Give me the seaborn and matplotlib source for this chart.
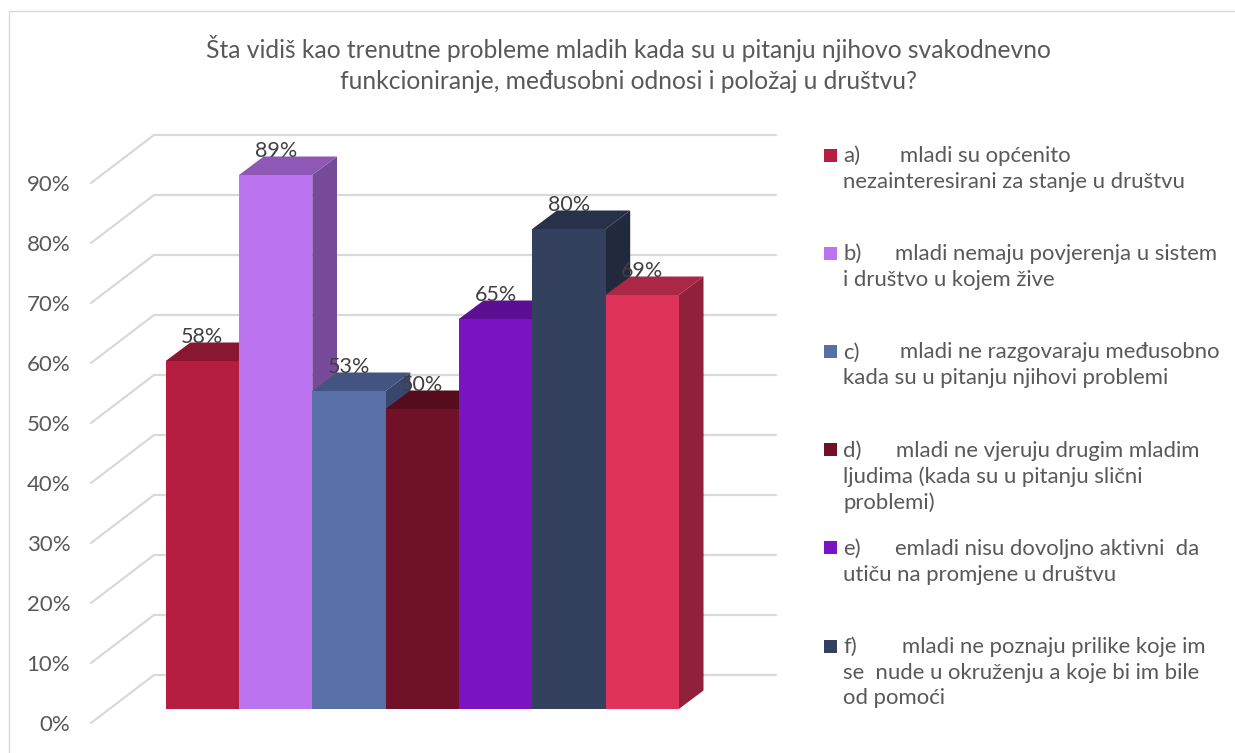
import numpy as np
import pandas as pd
import matplotlib
matplotlib.use('Agg')
import matplotlib.pyplot as plt
from matplotlib.colors import to_rgb
from matplotlib.patches import Polygon, Rectangle
import seaborn as sns

# podaci
kategorije = ['a', 'b', 'c', 'd', 'e', 'f', 'g']
vrijednosti = [58, 89, 53, 50, 65, 80, 69]
boje = ['#B51E40', '#BC73F0', '#596FA8', '#701128', '#7A14C2', '#33415F', '#E0335C']
podjele = [0, 10, 20, 30, 40, 50, 60, 70, 80, 90]
oznake_y = ['0%', '10%', '20%', '30%', '40%', '50%', '60%', '70%', '80%', '90%']

naslov = ('Šta vidiš kao trenutne probleme mladih kada su u pitanju njihovo svakodnevno\n'
          'funkcioniranje, međusobni odnosi i položaj u društvu?')

legenda_oznake = ['a)', 'b)', 'c)', 'd)', 'e)', 'f)']
legenda_prvi_red = ['mladi su općenito',
                    'mladi nemaju povjerenja u sistem',
                    'mladi ne razgovaraju međusobno',
                    'mladi ne vjeruju drugim mladim',
                    'emladi nisu dovoljno aktivni  da',
                    'mladi ne poznaju prilike koje im']
legenda_ostalo = ['nezainteresirani za stanje u društvu',
                  'i društvo u kojem žive',
                  'kada su u pitanju njihovi problemi',
                  'ljudima (kada su u pitanju slični\nproblemi)',
                  'utiču na promjene u društvu',
                  'se  nude u okruženju a koje bi im bile\nod pomoći']
legenda_x_teksta = [900, 895, 900, 896, 895, 902]

W, H = 1235, 753
FONT = 'Lato'
SIVA = '#595959'

sns.set_theme(style='white')
plt.rcParams['font.family'] = [FONT, 'DejaVu Sans']

fig = plt.figure(figsize=(W / 100, H / 100), dpi=100)
# osa pokriva podrucje od lijevog kraja dijagonala do desnog kraja mreze
ax = fig.add_axes([91 / W, 1 - 723 / H, (776 - 91) / W, (723 - 136) / H])

df = pd.DataFrame({'kategorija': kategorije, 'vrijednost': vrijednosti})
sns.barplot(data=df, x='kategorija', y='vrijednost', hue='kategorija',
            palette=boje, width=1, dodge=False, legend=False, saturation=1, ax=ax)

px_x = 73.3   # pikseli po kategoriji
px_y = 6.0    # pikseli po procentu
ax.set_xlim(-0.5 - (165.7 - 91) / px_x, -0.5 + (776 - 165.7) / px_x)
ax.set_ylim(-(723 - 709) / px_y, (709 - 136) / px_y)

dubina_x = 24.7 / px_x
dubina_y = 18.5 / px_y
zid_x = 63 / px_x
zid_y = 48 / px_y
front_y = -(723 - 709) / px_y
lijevo = ax.get_xlim()[0]
desno = ax.get_xlim()[1]

# mreza na zadnjem zidu i dijagonale
for p in podjele:
    ax.plot([lijevo, lijevo + zid_x, desno], [front_y + p, front_y + p + zid_y, front_y + p + zid_y],
            color='#D9D9D9', lw=1.6, zorder=1, solid_joinstyle='miter', clip_on=False)

# stranice i vrh stubova
bars = [b for c in ax.containers for b in c]
for i, (bar, boja) in enumerate(zip(bars, boje)):
    x0 = bar.get_x()
    x1 = x0 + bar.get_width()
    v = bar.get_height()
    rgb = np.array(to_rgb(boja))
    strana = Polygon([(x1, 0), (x1 + dubina_x, dubina_y), (x1 + dubina_x, v + dubina_y), (x1, v)],
                     closed=True, facecolor=rgb * 0.64, edgecolor='none', zorder=2 + i)
    vrh = Polygon([(x0, v), (x0 + dubina_x, v + dubina_y), (x1 + dubina_x, v + dubina_y), (x1, v)],
                  closed=True, facecolor=rgb * 0.76, edgecolor='none', zorder=2 + i + 0.1)
    ax.add_patch(strana)
    ax.add_patch(vrh)
    bar.set_zorder(2 + i + 0.2)
    bar.set_edgecolor('none')
    ax.text(x0 + bar.get_width() / 2, v + 4.0, f'{v:.0f}%', ha='center', va='center',
            fontsize=15.5, color='#404040', zorder=20)

ax.set_yticks([front_y + p for p in podjele], oznake_y)
ax.tick_params(axis='y', length=0, pad=15, labelsize=16, labelcolor=SIVA)
ax.set_xticks([])
ax.set_xlabel('')
ax.set_ylabel('')
sns.despine(ax=ax, left=True, bottom=True)
ax.patch.set_alpha(0)

fig.text(628 / W, 1 - 64 / H, naslov, ha='center', va='center', fontsize=17.7,
         color=SIVA, linespacing=1.45)

# legenda
for i, oznaka in enumerate(legenda_oznake):
    y = 155 + i * 98.2
    fig.add_artist(Rectangle((824 / W, 1 - (y + 6.5) / H), 13 / W, 13 / H,
                             transform=fig.transFigure, facecolor=boje[i], edgecolor='none'))
    fig.text(843 / W, 1 - (y + 1) / H, oznaka, ha='left', va='center', fontsize=15.9, color=SIVA)
    fig.text(legenda_x_teksta[i] / W, 1 - (y + 1) / H, legenda_prvi_red[i], ha='left', va='center',
             fontsize=15.9, color=SIVA)
    fig.text(843 / W, 1 - (y + 17) / H, legenda_ostalo[i], ha='left', va='top', fontsize=15.9,
             color=SIVA, linespacing=1.3)

# okvir
fig.add_artist(plt.Line2D([9 / W, 1], [1 - 11 / H, 1 - 11 / H], color='#D9D9D9', lw=1))
fig.add_artist(plt.Line2D([9 / W, 9 / W], [0, 1 - 11 / H], color='#D9D9D9', lw=1))

fig.savefig('out.png', dpi=100)
